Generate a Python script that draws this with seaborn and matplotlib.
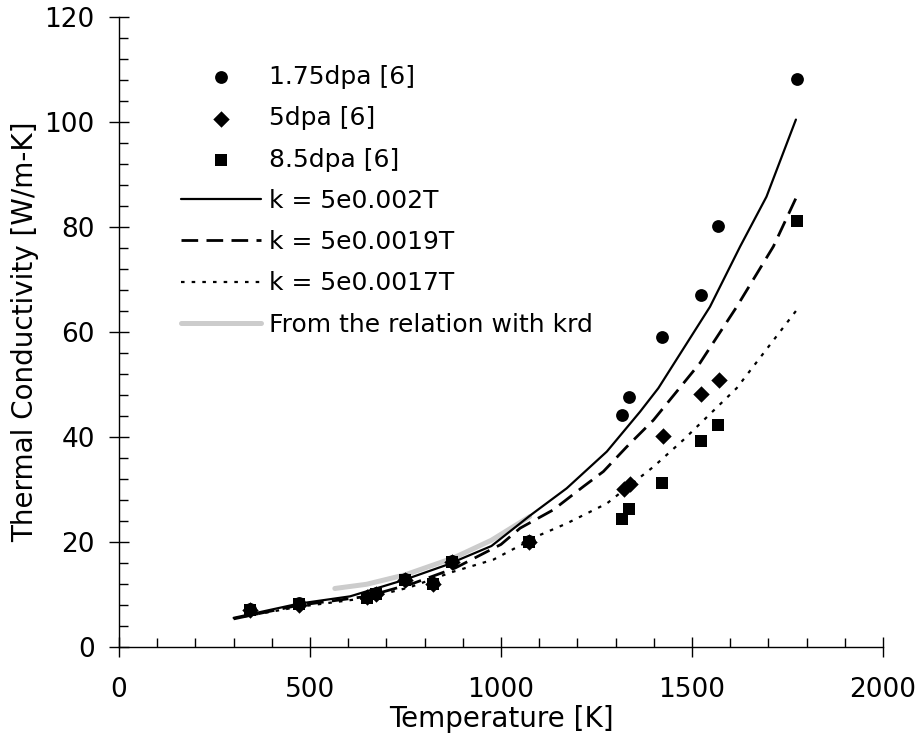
import numpy as np
import pandas as pd
import matplotlib
matplotlib.use('Agg')
import matplotlib.pyplot as plt
from matplotlib.ticker import MultipleLocator
import seaborn as sns

t_175 = [343, 470, 674, 749, 823, 873, 1072, 1318, 1334, 1422, 1523, 1569, 1774]
k_175 = [7.2, 8.3, 10.3, 13.0, 12.2, 16.4, 20.2, 44.2, 47.7, 59.0, 67.1, 80.2, 108.2]

t_5 = [343, 470, 648, 674, 749, 823, 873, 1072, 1322, 1337, 1425, 1524, 1571]
k_5 = [7.0, 8.0, 9.4, 10.0, 12.8, 12.0, 16.2, 20.0, 30.0, 31.0, 40.2, 48.2, 50.9]

t_85 = [343, 470, 648, 674, 749, 823, 873, 1072, 1318, 1334, 1422, 1523, 1569, 1774]
k_85 = [7.0, 8.2, 9.3, 10.0, 12.8, 12.0, 16.2, 20.0, 24.4, 26.2, 31.3, 39.2, 42.3, 81.2]

# fitted curves
t_fit1 = [300, 470, 605, 745, 858, 975, 1076, 1172, 1277, 1364, 1412, 1547, 1626, 1695, 1772]
k_fit1 = [5.5, 8.2, 9.6, 12.7, 15.6, 19.2, 25.0, 30.2, 37.2, 44.8, 49.3, 64.8, 76.3, 85.8, 100.5]

t_fit2 = [300, 470, 650, 771, 880, 1000, 1050, 1137, 1215, 1268, 1329, 1399, 1521, 1617, 1713, 1772]
k_fit2 = [5.3, 7.9, 9.6, 12.1, 15.0, 19.5, 22.6, 26.1, 30.5, 33.4, 38.1, 43.2, 54.1, 64.8, 76.3, 85.5]

t_fit3 = [300, 470, 650, 760, 875, 980, 1102, 1172, 1277, 1399, 1477, 1617, 1772]
k_fit3 = [5.4, 7.6, 9.3, 11.3, 14.3, 16.6, 21.3, 23.5, 27.3, 34.3, 39.4, 49.3, 64.0]

# band from the relation with krd
t_band = [565, 648, 749, 875, 975, 1075]
k_band = [11.1, 11.9, 13.7, 16.9, 20.3, 24.8]

labels = ['1.75dpa [6]', '5dpa [6]', '8.5dpa [6]',
          'k = 5e0.002T', 'k = 5e0.0019T', 'k = 5e0.0017T',
          'From the relation with krd']

sns.set_style('white')
plt.rcParams['font.family'] = ['DejaVu Sans']

fig = plt.figure(figsize=(9.19, 7.40), dpi=100)
ax = fig.add_axes([119 / 919, 93.3 / 740, (883 - 119) / 919, (646.7 - 17.3) / 740])

band = pd.DataFrame({'T': t_band, 'k': k_band})
sns.lineplot(data=band, x='T', y='k', ax=ax, color='#cccccc', lw=3.6,
             sort=False, estimator=None, label=labels[6], zorder=1)

fits = [(t_fit1, k_fit1, labels[3], None, 1.6),
        (t_fit2, k_fit2, labels[4], (6, 3), 2.0),
        (t_fit3, k_fit3, labels[5], (1.6, 3.2), 1.6)]
for t, k, lab, dash, lw in fits:
    df = pd.DataFrame({'T': t, 'k': k})
    sns.lineplot(data=df, x='T', y='k', ax=ax, color='black', lw=lw,
                 sort=False, estimator=None, zorder=2)
    ln = ax.lines[-1]
    if dash is not None:
        ln.set_dashes(dash)
    ln.set_label(lab)

pts = [(t_175, k_175, 'o', labels[0], 85),
       (t_5, k_5, 'D', labels[1], 70),
       (t_85, k_85, 's', labels[2], 80)]
for t, k, m, lab, s in pts:
    df = pd.DataFrame({'T': t, 'k': k})
    sns.scatterplot(data=df, x='T', y='k', ax=ax, marker=m, s=s, color='black',
                    edgecolor='black', linewidth=0, label=lab, zorder=3, clip_on=False)

ax.set_xlim(0, 2000)
ax.set_ylim(0, 120)
ax.xaxis.set_major_locator(MultipleLocator(500))
ax.xaxis.set_minor_locator(MultipleLocator(100))
ax.yaxis.set_major_locator(MultipleLocator(20))
ax.yaxis.set_minor_locator(MultipleLocator(4))
ax.tick_params(which='major', direction='inout', length=15, width=1,
               colors='black', labelsize=19)
ax.tick_params(axis='x', which='major', pad=14)
ax.tick_params(axis='y', which='major', pad=10)
ax.tick_params(which='minor', direction='in', length=6.5, width=1, colors='black')
ax.tick_params(which='both', bottom=True, left=True)
for side in ['top', 'right']:
    ax.spines[side].set_visible(False)
for side in ['left', 'bottom']:
    ax.spines[side].set_color('black')
    ax.spines[side].set_linewidth(1)

ax.set_xlabel('Temperature [K]', fontsize=20, color='black', labelpad=2)
ax.set_ylabel('Thermal Conductivity [W/m-K]', fontsize=20, color='black', labelpad=4)

handles, labs = ax.get_legend_handles_labels()
order = [labels.index(l) for l in labs]
hl = sorted(zip(order, handles, labs))
ax.legend([h for _, h, _ in hl], [l for _, _, l in hl],
          loc='upper left', bbox_to_anchor=(181 / 919, 1 - 65 / 740),
          bbox_transform=fig.transFigure, frameon=False, fontsize=18,
          handlelength=3.2, handletextpad=0.32, labelspacing=0.69,
          borderpad=0, borderaxespad=0, labelcolor='black')

fig.savefig('out.png', dpi=100)
